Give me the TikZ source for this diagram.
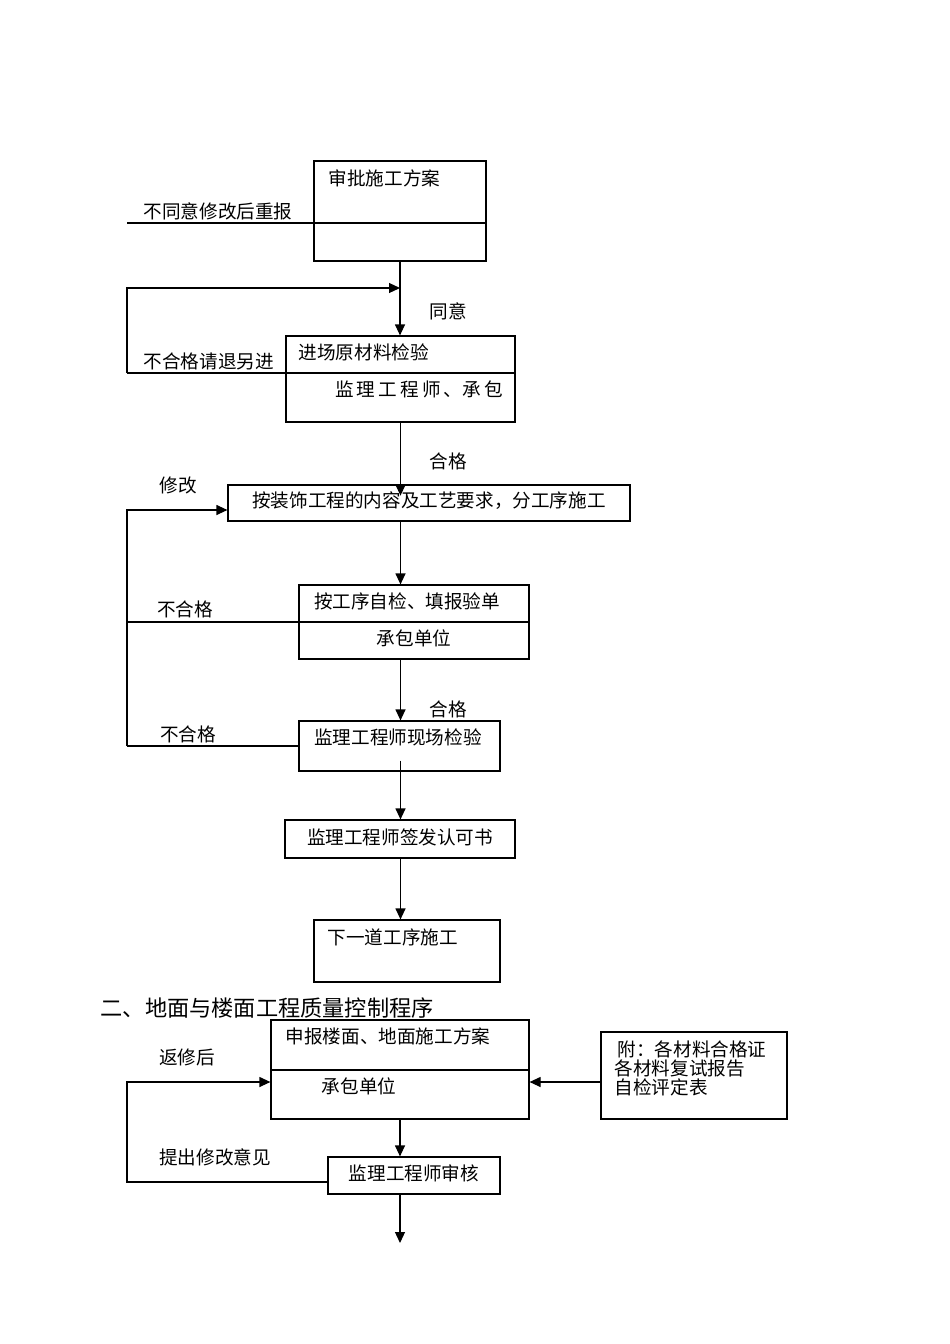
\documentclass[tikz,border=0pt]{standalone}
\usepackage{fontspec}
\newfontfamily\cjk{Noto Sans CJK SC}
\usetikzlibrary{arrows.meta,positioning,calc}
\tikzset {
    box/.style={draw, line width=1.2pt, inner sep=0pt},
    txt/.style={inner sep=0pt, font=\cjk\fontsize{18.6}{19}\selectfont},
    flow/.style={line width=1.2pt, -{Triangle[length=11pt,width=10pt]}},
    every path/.style={line width=1.2pt}
}

\begin{document}
\begin{tikzpicture}[x=1pt, y=-1pt]

        \useasboundingbox (0,0) rectangle (950,1344);

        % upper chart
        \node[box, minimum width=172, minimum height=100] (approve) at (400,211) {};
        \node[box, minimum width=229, minimum height=86] (material) at (400.5,379) {};
        \node[box, minimum width=402, minimum height=36] (construct) at (429,503) {};
        \node[box, minimum width=230, minimum height=74] (selfcheck) at (414,622) {};
        \node[box, minimum width=201, minimum height=50] (sitecheck) at (399.5,746) {};
        \node[box, minimum width=230, minimum height=38] (permit) at (400,839) {};
        \node[box, minimum width=186, minimum height=62] (nextstep) at (407,951) {};

        \node[txt, anchor=west] (approveT) at (328,178) {审批施工方案};
        \node[txt, anchor=west] (materialT) at (298,352) {进场原材料检验};
        \node[txt] (materialB) at (419,389) {监\,理\,工\,程\,师\,、承\,包};
        \node[txt] (constructT) at (429,501) {按装饰工程的内容及工艺要求，分工序施工};
        \node[txt] (selfcheckT) at (407,601) {按工序自检、填报验单};
        \node[txt] (selfcheckB) at (414,638) {承包单位};
        \node[txt] (sitecheckT) at (398,737) {监理工程师现场检验};
        \node[txt] (permitT) at (400,837) {监理工程师签发认可书};
        \node[txt, anchor=west] (nextstepT) at (327,937) {下一道工序施工};

        \node[txt, anchor=west] (lblReject) at (143,211) {不同意修改后重报};
        \node[txt, anchor=west] (lblReturn) at (143,361) {不合格请退另进};
        \node[txt] (lblAgree) at (448,311) {同意};
        \node[txt] (lblPass1) at (448,461) {合格};
        \node[txt] (lblModify) at (178,485) {修改};
        \node[txt] (lblFail1) at (185,609) {不合格};
        \node[txt] (lblPass2) at (448,709) {合格};
        \node[txt] (lblFail2) at (188,734) {不合格};

        \coordinate (rejectL) at (127,223);
        \coordinate (returnL) at (127,373);
        \coordinate (returnT) at (127,288);
        \coordinate (modifyL) at (127,510);
        \coordinate (fail1L) at (127,622);
        \coordinate (fail2L) at (127,746);

        \draw (rejectL) -- (rejectL -| approve.east);
        \draw (returnL) -- (returnL -| material.east);
        \draw[flow] (returnL) -- (returnT) -- (returnT -| approve.south);
        \draw (fail1L) -- (fail1L -| selfcheck.east);
        \draw (fail2L) -- (sitecheck.west |- fail2L);
        \draw[flow] (fail2L) -- (modifyL) -- (modifyL -| construct.west);

        \draw[flow] (approve.south) -- (approve.south |- material.north);
        \draw[flow] (material.south) -- ++(0,73);
        \draw[flow] (material.south |- construct.south) -- (material.south |- selfcheck.north);
        \draw[flow] (material.south |- selfcheck.south) -- (material.south |- sitecheck.north);
        \draw[flow] ($(material.south |- sitecheck.south)+(0,-11)$) -- (material.south |- permit.north);
        \draw[flow] (material.south |- permit.south) -- (material.south |- nextstep.north);

        % second chart
        \node[txt, anchor=west, font=\cjk\fontsize{22.2}{23}\selectfont] (heading) at (100,1008) {二、地面与楼面工程质量控制程序};

        \node[box, minimum width=258, minimum height=99] (report) at (400,1069.5) {};
        \node[box, minimum width=186, minimum height=87] (attach) at (694,1075.5) {};
        \node[box, minimum width=172, minimum height=37] (review) at (414,1175.5) {};

        \node[txt] (reportT) at (388,1036) {申报楼面、地面施工方案};
        \node[txt] (reportB) at (359,1086) {承包单位};
        \node[txt, anchor=north west, align=left] (attachT) at (614,1040) {\hspace{3pt}附：各材料合格证\\各材料复试报告\\自检评定表};
        \node[txt] (reviewT) at (414,1173) {监理工程师审核};
        \node[txt] (lblRepair) at (187,1057) {返修后};
        \node[txt] (lblOpinion) at (215,1157) {提出修改意见};

        \coordinate (reportDiv) at (271,1070);
        \coordinate (repairL) at (127,1082);
        \coordinate (opinionL) at (127,1182);
        \coordinate (bottomEnd) at (400,1243);

        \draw (reportDiv) -- (reportDiv -| report.east);
        \draw[flow] (review.west |- opinionL) -- (opinionL) -- (repairL) -- (repairL -| report.west);
        \draw[flow] (attach.west |- repairL) -- (repairL -| report.east);
        \draw[flow] (report.south) -- (report.south |- review.north);
        \draw[flow] (report.south |- review.south) -- (bottomEnd);

    \end{tikzpicture}
\end{document}
